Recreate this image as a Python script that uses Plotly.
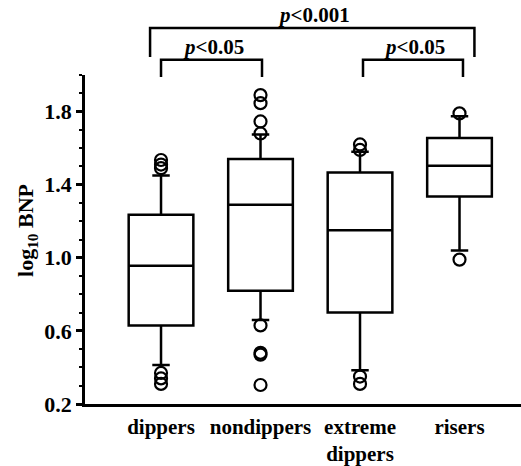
import plotly.graph_objects as go

# ---- data ----
categories = ["dippers", "nondippers", "extreme<br>dippers", "risers"]
cat_pos = [0, 1, 2, 3]
q1 = [0.63, 0.82, 0.70, 1.335]
median = [0.956, 1.29, 1.15, 1.503]
q3 = [1.235, 1.54, 1.467, 1.655]
lower_whisker = [0.414, 0.66, 0.385, 1.04]
upper_whisker = [1.45, 1.675, 1.58, 1.775]
outliers = [
    [1.49, 1.51, 1.535, 0.37, 0.34, 0.31],
    [1.68, 1.746, 1.846, 1.89, 0.63, 0.48, 0.47, 0.304],
    [1.62, 1.59, 0.35, 0.31],
    [1.79, 0.99],
]
y_ticks = [0.2, 0.6, 1.0, 1.4, 1.8]
# significance brackets: (x start, x end, label)
brackets = [(-0.11, 3.15, "<i>p</i>&lt;0.001", "big"),
            (0.0, 1.015, "<i>p</i>&lt;0.05", "small"),
            (2.03, 3.035, "<i>p</i>&lt;0.05", "small")]

FONT = "Liberation Serif, Times New Roman, serif"

fig = go.Figure()
for i in range(len(categories)):
    fig.add_trace(go.Box(
        x=[cat_pos[i]], q1=[q1[i]], median=[median[i]], q3=[q3[i]],
        lowerfence=[lower_whisker[i]], upperfence=[upper_whisker[i]],
        width=0.65, whiskerwidth=0.27, boxpoints=False,
        fillcolor="rgba(255,255,255,0)",
        line=dict(color="black", width=2.5), showlegend=False,
        hoverinfo="skip"))
    fig.add_trace(go.Scatter(
        x=[cat_pos[i]] * len(outliers[i]), y=outliers[i], mode="markers",
        marker=dict(symbol="circle-open", size=12, color="black",
                    line=dict(width=2.2, color="black")),
        showlegend=False, cliponaxis=False, hoverinfo="skip"))

# bracket geometry (paper y)
levels = {"big": (1.143, 1.055, 1.182), "small": (1.046, 0.994, 1.085)}
for x0, x1, label, kind in brackets:
    ytop, ybot, ylab = levels[kind]
    fig.add_shape(type="path", xref="x", yref="paper",
                  path=f"M {x0} {ybot} L {x0} {ytop} L {x1} {ytop} L {x1} {ybot}",
                  line=dict(color="black", width=2.5))
    fig.add_annotation(x=(x0 + x1) / 2 + 0.02, y=ylab, xref="x", yref="paper",
                       text=label, showarrow=False, yanchor="middle",
                       font=dict(family=FONT, size=21, color="black", weight="bold"))

fig.add_annotation(x=-0.133, y=0.526, xref="paper", yref="paper",
                   xanchor="center", yanchor="middle",
                   text="log<sub>10</sub> BNP", textangle=-90, showarrow=False,
                   font=dict(family=FONT, size=22, color="black", weight="bold"))

fig.update_layout(
    template="none",
    width=521, height=466,
    margin=dict(l=85, r=0, t=75, b=62, autoexpand=False),
    plot_bgcolor="white", paper_bgcolor="white",
    font=dict(family=FONT, size=21, color="black", weight="bold"),
    xaxis=dict(range=[-0.764, 3.618], tickvals=cat_pos, ticktext=categories,
               showline=True, linecolor="black", linewidth=2.5, ticks="",
               showgrid=False, zeroline=False, ticklabelstandoff=2,
               automargin=False, tickfont=dict(size=21)),
    yaxis=dict(range=[0.2, 2.0], tickvals=y_ticks, tickformat=".1f",
               showline=True, linecolor="black", linewidth=2.5,
               ticks="outside", ticklen=6, tickwidth=2.5, tickcolor="black",
               minor=dict(dtick=0.1, tick0=0.2, ticks="outside", ticklen=3,
                          tickwidth=2, tickcolor="black"),
               showgrid=False, zeroline=False, automargin=False,
               tickfont=dict(size=22)),
)

fig.write_html("out.html", config={"displayModeBar": False},
               post_script="document.body.style.margin='0';document.body.style.overflow='hidden';")
